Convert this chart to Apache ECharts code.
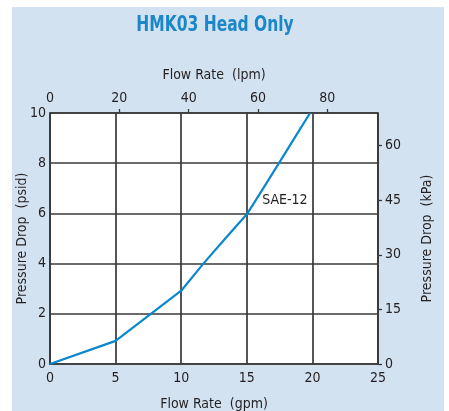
<!DOCTYPE html>
<html><head><meta charset="utf-8">
<script src="https://cdn.jsdelivr.net/npm/echarts@6/dist/echarts.min.js"></script>
<style>html,body{margin:0;padding:0;background:#fff}#c{width:449px;height:411px}</style>
</head><body><div id="c"></div>
<script>
const title = 'HMK03 Head Only';
const gpmTicks = [0, 5, 10, 15, 20, 25];
const lpmTicks = [0, 20, 40, 60, 80];
const psidTicks = [0, 2, 4, 6, 8, 10];
const kpaTicks = [0, 15, 30, 45, 60];
const flowGpm = [0, 5, 10, 11.69, 13.36, 15.05, 16.25, 17.45, 18.63, 19.82];
const dropPsid = [0, 0.92, 2.92, 4.0, 5.0, 6.0, 7.0, 8.0, 9.0, 10.0];
const seriesName = 'SAE-12';
const labelAt = [17.9, 6.53];

const GPM_TO_LPM = 3.78541, PSI_TO_KPA = 6.89476;
const FONT = '"Liberation Sans Narrow", "Arial Narrow", "DejaVu Sans Condensed", sans-serif';
const lineC = '#383838', txtC = '#231f20';
const chart = echarts.init(document.getElementById('c'), null, {renderer: 'canvas'});
const ax = {onZero: false, lineStyle: {color: lineC, width: 1.7}};
const nameStyle = {fontFamily: FONT, fontSize: 14, color: txtC};
const labStyle = {fontFamily: FONT, fontSize: 14, color: txtC};
chart.setOption({
  backgroundColor: '#fff',
  animation: false,
  graphic: [
    {type: 'rect', z: -10, shape: {x: 12, y: 7, width: 432, height: 404}, style: {fill: '#d3e2f1'}},
    {type: 'text', x: 215, y: 26, scaleX: 0.82, style: {text: title, fontFamily: FONT, fontWeight: 'bold', fontSize: 21,
      fill: '#1b86c8', align: 'center', verticalAlign: 'middle'}}
  ],
  grid: {left: 50, top: 113, width: 328, height: 251, show: true, backgroundColor: '#fff', borderWidth: 0,
         containLabel: false, outerBoundsMode: 'none'},
  xAxis: [
    {type: 'value', position: 'bottom', min: 0, max: 25, interval: 5,
     name: 'Flow Rate  (gpm)', nameLocation: 'middle', nameGap: 33, nameMoveOverlap: false, nameTextStyle: nameStyle,
     axisLine: ax, axisTick: {show: false},
     axisLabel: Object.assign({customValues: gpmTicks, margin: 7}, labStyle),
     splitLine: {show: true, lineStyle: {color: lineC, width: 1.7}}},
    {type: 'value', position: 'top', min: 0, max: 25 * GPM_TO_LPM,
     name: 'Flow Rate  (lpm)', nameLocation: 'middle', nameGap: 31, nameMoveOverlap: false, nameTextStyle: nameStyle,
     axisLine: ax, axisTick: {show: true, customValues: lpmTicks.slice(1), length: 4, lineStyle: {color: lineC, width: 1.3}},
     axisLabel: Object.assign({customValues: lpmTicks, margin: 8}, labStyle),
     splitLine: {show: false}}
  ],
  yAxis: [
    {type: 'value', position: 'left', min: 0, max: 10, interval: 2,
     name: 'Pressure Drop  (psid)', nameLocation: 'middle', nameGap: 21, nameRotate: 90, nameMoveOverlap: false, nameTextStyle: nameStyle,
     axisLine: ax, axisTick: {show: false},
     axisLabel: Object.assign({customValues: psidTicks, margin: 4}, labStyle),
     splitLine: {show: true, lineStyle: {color: lineC, width: 1.7}}},
    {type: 'value', position: 'right', min: 0, max: 10 * PSI_TO_KPA,
     name: 'Pressure Drop  (kPa)', nameLocation: 'middle', nameGap: 42, nameRotate: 90, nameMoveOverlap: false, nameTextStyle: nameStyle,
     axisLine: ax, axisTick: {show: true, customValues: kpaTicks, length: 4, lineStyle: {color: lineC, width: 1.3}},
     axisLabel: Object.assign({customValues: kpaTicks, margin: 7}, labStyle),
     splitLine: {show: false}}
  ],
  series: [{
    type: 'line', name: seriesName, xAxisIndex: 0, yAxisIndex: 0,
    data: flowGpm.map((x, i) => [x, dropPsid[i]]),
    symbol: 'none', smooth: false,
    lineStyle: {color: '#0a88cd', width: 2.2},
    markPoint: {symbol: 'circle', symbolSize: 0, silent: true,
      data: [{coord: labelAt, label: {show: true, formatter: seriesName, position: 'inside', fontFamily: FONT, fontSize: 14, color: txtC}}]}
  }]
});
</script></body></html>
